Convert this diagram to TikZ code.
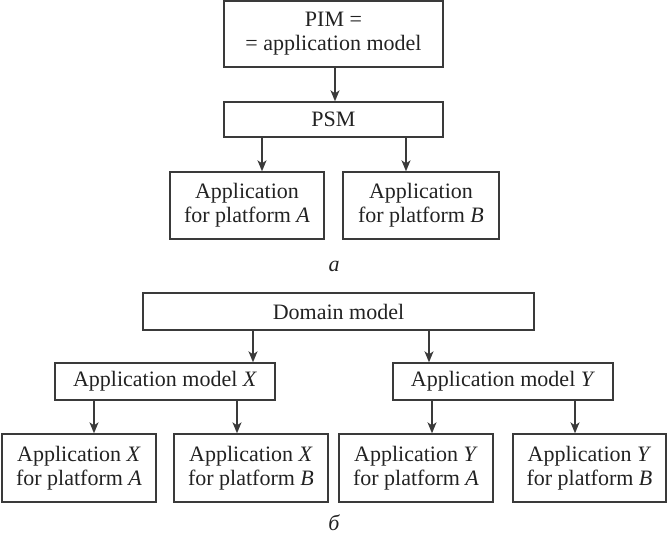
\documentclass[tikz,border=0pt]{standalone}
\usepackage{fontspec}
\setmainfont{Liberation Serif}
\usetikzlibrary{arrows.meta}
\definecolor{ln}{HTML}{3A3A3A}
\definecolor{tx}{HTML}{222222}
\begin{document}
\begin{tikzpicture}[x=1pt,y=-1pt,
  box/.style={draw=ln,line width=1.4pt,inner sep=0pt,align=center,text=tx,
    font=\fontsize{22}{24}\selectfont},
  arr/.style={draw=ln,line width=1.4pt,-{Stealth[length=11pt,width=9pt,inset=3pt]}},
  lab/.style={text=tx,font=\fontsize{22}{24}\selectfont\itshape,inner sep=0pt}]
\useasboundingbox (0,0) rectangle (668,539);
% part a
\node[box,minimum width=219pt,minimum height=66pt] (pim) at (333.5,34) {PIM =\\= application model};
\node[box,minimum width=219pt,minimum height=35pt] (psm) at (333.5,119.5) {PSM};
\node[box,minimum width=154pt,minimum height=67pt] (appA) at (247,205.5) {Application\\for platform \textit{A}};
\node[box,minimum width=156pt,minimum height=67pt] (appB) at (421,205.5) {Application\\for platform \textit{B}};
\draw[arr] (pim.south -| 335,0) -- (psm.north -| 335,0);
\draw[arr] (psm.south -| 262,0) -- (appA.north -| 262,0);
\draw[arr] (psm.south -| 406,0) -- (appB.north -| 406,0);
\node[lab,anchor=base] (la) at (334,271) {а};
% part b
\node[box,minimum width=391pt,minimum height=37pt] (dom) at (338.5,311.5) {Domain model};
\node[box,minimum width=220pt,minimum height=37pt] (amX) at (165,381.5) {Application model \textit{X}};
\node[box,minimum width=220pt,minimum height=37pt] (amY) at (503,381.5) {Application model \textit{Y}};
\node[box,minimum width=154pt,minimum height=68pt] (XA) at (79,468) {Application \textit{X}\\for platform \textit{A}};
\node[box,minimum width=154pt,minimum height=68pt] (XB) at (251,468) {Application \textit{X}\\for platform \textit{B}};
\node[box,minimum width=154pt,minimum height=68pt] (YA) at (416,468) {Application \textit{Y}\\for platform \textit{A}};
\node[box,minimum width=153pt,minimum height=68pt] (YB) at (589.5,468) {Application \textit{Y}\\for platform \textit{B}};
\draw[arr] (dom.south -| 253,0) -- (amX.north -| 253,0);
\draw[arr] (dom.south -| 429,0) -- (amY.north -| 429,0);
\draw[arr] (amX.south -| 94,0) -- (XA.north -| 94,0);
\draw[arr] (amX.south -| 237,0) -- (XB.north -| 237,0);
\draw[arr] (amY.south -| 432,0) -- (YA.north -| 432,0);
\draw[arr] (amY.south -| 575,0) -- (YB.north -| 575,0);
\node[lab,anchor=base] (lb) at (334,530) {б};
\end{tikzpicture}
\end{document}
